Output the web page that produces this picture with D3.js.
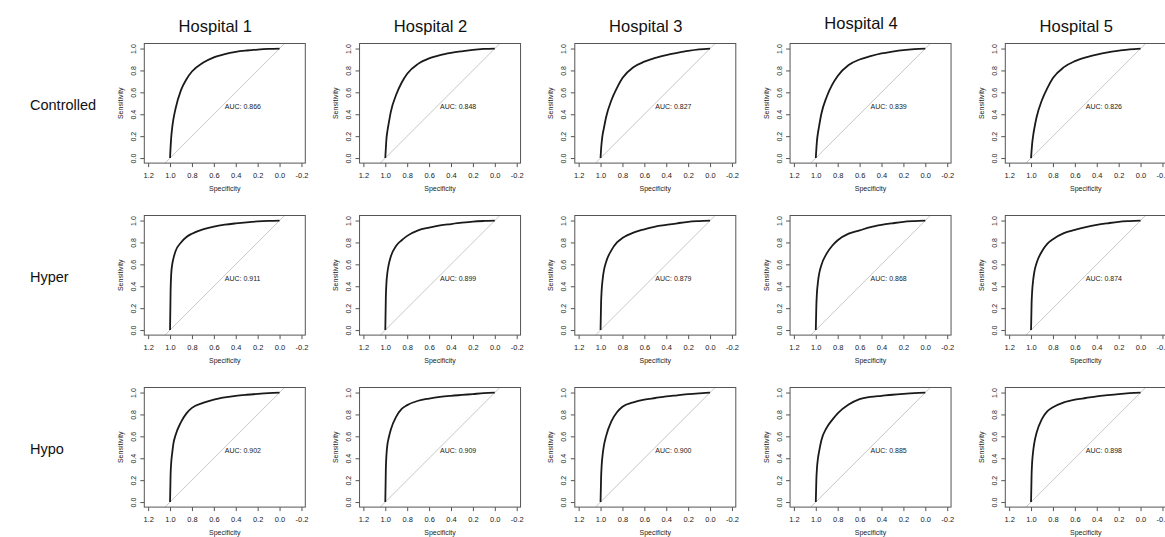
<!DOCTYPE html>
<html lang="en">
<head>
  <meta charset="UTF-8">
  <title>ROC curves by hospital</title>
  <script src="https://d3js.org/d3.v7.min.js"></script>
  <style>
    body { margin: 0; background: #fff; font-family: "Liberation Sans", Arial, sans-serif; }
    .tick text { font-family: "Liberation Sans", Arial, sans-serif; fill: #222; }
    .tick line { stroke: #555; }
  </style>
</head>
<body>
  <svg width="1165" height="537"></svg>
  <script>
    // data
    const hospitals = ["Hospital 1", "Hospital 2", "Hospital 3", "Hospital 4", "Hospital 5"];
    const conditions = ["Controlled", "Hyper", "Hypo"];
    const xTicks = [1.2, 1.0, 0.8, 0.6, 0.4, 0.2, 0.0, -0.2];
    const yTicks = [0.0, 0.2, 0.4, 0.6, 0.8, 1.0];

    const specGrid = [1, 0.995, 0.99, 0.98, 0.97, 0.95, 0.9, 0.85, 0.8, 0.7, 0.6, 0.5, 0.4, 0.3, 0.2, 0.1, 0];

    const aucControlled = [0.866, 0.848, 0.827, 0.839, 0.826];
    const aucHyper = [0.911, 0.899, 0.879, 0.868, 0.874];
    const aucHypo = [0.902, 0.909, 0.900, 0.885, 0.898];

    const sensControlled = [
      [0, .10, .18, .28, .35, .45, .62, .72, .79, .87, .92, .95, .97, .982, .991, .997, 1],
      [0, .09, .17, .25, .31, .42, .58, .69, .77, .86, .91, .94, .96, .975, .988, .996, 1],
      [0, .08, .14, .22, .27, .37, .53, .64, .73, .83, .88, .915, .94, .96, .978, .992, 1],
      [0, .08, .15, .23, .29, .40, .56, .67, .75, .85, .90, .93, .955, .972, .986, .995, 1],
      [0, .07, .13, .21, .27, .37, .53, .64, .73, .83, .885, .92, .945, .965, .98, .993, 1]
    ];
    const sensHyper = [
      [0, .35, .50, .60, .65, .72, .80, .85, .88, .92, .945, .962, .974, .984, .992, .997, 1],
      [0, .30, .42, .53, .59, .67, .77, .82, .86, .91, .935, .955, .968, .98, .99, .996, 1],
      [0, .25, .36, .47, .54, .62, .73, .80, .84, .89, .92, .945, .96, .975, .988, .995, 1],
      [0, .22, .33, .44, .51, .59, .70, .77, .82, .88, .91, .94, .96, .975, .988, .995, 1],
      [0, .24, .35, .46, .53, .61, .72, .79, .83, .885, .915, .94, .96, .975, .988, .995, 1]
    ];
    const sensHypo = [
      [0, .25, .35, .45, .53, .61, .73, .81, .86, .905, .935, .955, .97, .98, .988, .995, 1],
      [0, .30, .42, .53, .58, .66, .78, .85, .885, .925, .945, .96, .97, .978, .986, .994, 1],
      [0, .22, .33, .44, .51, .60, .74, .82, .87, .91, .935, .95, .965, .975, .985, .993, 1],
      [0, .20, .30, .40, .46, .56, .68, .75, .81, .89, .94, .96, .97, .98, .988, .995, 1],
      [0, .25, .36, .47, .54, .63, .76, .83, .865, .91, .935, .95, .965, .976, .986, .994, 1]
    ];

    const aucRows = [aucControlled, aucHyper, aucHypo];
    const sensRows = [sensControlled, sensHyper, sensHypo];

    // layout
    const boxW = 161, boxH = 119.6;
    const left0 = 144.3, colStep = 215.25;
    const top0 = 43.5, rowStep = 172;
    const titleDy = [0, 0, 0, -3, 0];

    const svg = d3.select("svg");

    const x = d3.scaleLinear().domain([1.235, -0.235]).range([0, boxW]);
    const y = d3.scaleLinear().domain([-0.046, 1.046]).range([boxH, 0]);
    const fmt = d => d.toFixed(1);

    const line = d3.line()
      .x(d => x(d[0]))
      .y(d => y(d[1]))
      .curve(d3.curveMonotoneX);

    // column titles
    hospitals.forEach((h, c) => {
      svg.append("text")
        .attr("x", left0 + c * colStep + 71)
        .attr("y", 31.7 + titleDy[c])
        .attr("text-anchor", "middle")
        .attr("font-size", "16.5px")
        .attr("fill", "#111")
        .text(h);
    });

    // row labels
    conditions.forEach((name, r) => {
      svg.append("text")
        .attr("x", 30)
        .attr("y", top0 + r * rowStep + 66)
        .attr("font-size", "14.5px")
        .attr("fill", "#111")
        .text(name);
    });

    conditions.forEach((cond, r) => {
      hospitals.forEach((h, c) => {
        const g = svg.append("g")
          .attr("transform", `translate(${left0 + c * colStep},${top0 + r * rowStep})`);

        // diagonal reference
        g.append("line")
          .attr("x1", x(1.046)).attr("y1", y(-0.046))
          .attr("x2", x(-0.046)).attr("y2", y(1.046))
          .attr("stroke", "#c8c8c8")
          .attr("stroke-width", 1);

        // ROC curve
        const pts = specGrid.map((s, i) => [s, sensRows[r][c][i]]);
        g.append("path")
          .datum(pts)
          .attr("fill", "none")
          .attr("stroke", "#1a1a1a")
          .attr("stroke-width", 1.8)
          .attr("stroke-linejoin", "round")
          .attr("d", line);

        // box
        g.append("rect")
          .attr("width", boxW).attr("height", boxH)
          .attr("fill", "none")
          .attr("stroke", "#555")
          .attr("stroke-width", 1);

        // x axis
        const xa = g.append("g")
          .attr("transform", `translate(0,${boxH})`)
          .call(d3.axisBottom(x).tickValues(xTicks).tickSize(4).tickFormat(fmt));
        xa.select(".domain").remove();
        xa.selectAll("text")
          .attr("y", 12).attr("dy", "0.35em")
          .attr("font-size", "7.5px");

        // y axis
        const ya = g.append("g")
          .call(d3.axisLeft(y).tickValues(yTicks).tickSize(4).tickFormat(fmt));
        ya.select(".domain").remove();
        ya.selectAll("text")
          .attr("transform", "rotate(-90)")
          .attr("x", 0).attr("y", -11).attr("dy", "0.35em")
          .attr("text-anchor", "middle")
          .attr("font-size", "7px");

        // axis titles
        g.append("text")
          .attr("x", x(0.5)).attr("y", boxH + 25)
          .attr("dy", "0.35em")
          .attr("text-anchor", "middle")
          .attr("font-size", "7px")
          .attr("fill", "#222")
          .text("Specificity");

        g.append("text")
          .attr("transform", `translate(-24,${y(0.5)}) rotate(-90)`)
          .attr("dy", "0.35em")
          .attr("text-anchor", "middle")
          .attr("font-size", "7px")
          .attr("fill", "#222")
          .text("Sensitivity");

        // AUC label
        g.append("text")
          .attr("x", x(0.5)).attr("y", y(0.5))
          .attr("dy", "0.85em")
          .attr("font-size", "7px")
          .attr("fill", "#222")
          .text("AUC: " + aucRows[r][c].toFixed(3));
      });
    });
  </script>
</body>
</html>
